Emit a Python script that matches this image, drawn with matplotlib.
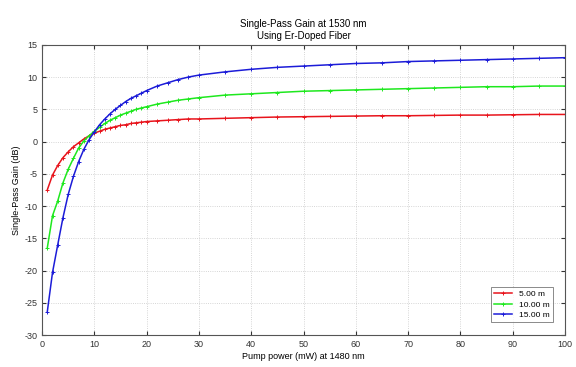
import matplotlib
matplotlib.use("Agg")
import matplotlib.pyplot as plt

plt.rcParams['font.family'] = ['Liberation Sans', 'DejaVu Sans']
plt.rcParams['axes.unicode_minus'] = False

# pump power (mW) at 1480 nm
pump = [1, 2, 3, 4, 5, 6, 7, 8, 9, 10, 11, 12, 13, 14, 15, 16, 17, 18, 19, 20,
        22, 24, 26, 28, 30, 35, 40, 45, 50, 55, 60, 65, 70, 75, 80, 85, 90, 95, 100]

# single-pass gain (dB) for each fiber length
gain_5m = [-7.5, -5.2, -3.7, -2.5, -1.6, -0.8, -0.2, 0.4, 0.9, 1.3, 1.6, 1.9, 2.1, 2.3,
           2.5, 2.6, 2.8, 2.9, 3.0, 3.1, 3.2, 3.3, 3.4, 3.5, 3.5, 3.6, 3.7, 3.8, 3.85,
           3.9, 3.95, 4.0, 4.0, 4.05, 4.1, 4.1, 4.15, 4.2, 4.2]
gain_10m = [-16.5, -11.5, -9.2, -6.4, -4.3, -2.6, -1.0, 0.1, 0.9, 1.6, 2.2, 2.8, 3.3, 3.7,
            4.1, 4.4, 4.7, 5.0, 5.2, 5.4, 5.8, 6.1, 6.4, 6.6, 6.8, 7.2, 7.4, 7.6, 7.8,
            7.9, 8.0, 8.1, 8.2, 8.3, 8.4, 8.5, 8.5, 8.6, 8.6]
gain_15m = [-26.4, -20.3, -16.0, -11.8, -8.2, -5.4, -3.1, -1.2, 0.3, 1.5, 2.6, 3.5, 4.3, 5.0,
            5.6, 6.2, 6.7, 7.1, 7.5, 7.9, 8.6, 9.1, 9.6, 10.0, 10.3, 10.8, 11.2, 11.5, 11.7,
            11.9, 12.1, 12.2, 12.4, 12.5, 12.6, 12.7, 12.8, 12.9, 13.0]

labels = ['5.00 m', '10.00 m', '15.00 m']
colors = ['#e8141c', '#1ee81e', '#1c1cd8']

fig = plt.figure(figsize=(5.76, 3.67), dpi=100)
ax = fig.add_axes([0.073, 0.087, 0.908, 0.791])

for g, lab, c in zip([gain_5m, gain_10m, gain_15m], labels, colors):
    ax.plot(pump, g, color=c, lw=1.1, ls='-', marker='+', ms=2.5, mew=0.7, label=lab)

ax.set_xlim(0, 100)
ax.set_ylim(-30, 15)
ax.set_xticks(range(0, 101, 10))
ax.set_yticks(range(-30, 16, 5))
ax.grid(True, ls=':', color='#c8c8c8', lw=0.6)
ax.tick_params(direction='in', labelsize=6.5, length=3, colors='#333333',
               top=True, right=True)
for s in ax.spines.values():
    s.set_color('#555555')
    s.set_linewidth(0.8)

ax.set_xlabel('Pump power (mW) at 1480 nm', fontsize=6.5, labelpad=2)
ax.set_ylabel('Single-Pass Gain (dB)', fontsize=6.5, labelpad=2)
ax.set_title('Single-Pass Gain at 1530 nm\nUsing Er-Doped Fiber', fontsize=7,
             pad=4, linespacing=1.3)

leg = ax.legend(loc='lower right', bbox_to_anchor=(0.985, 0.03), fontsize=6,
                frameon=True, fancybox=False, handlelength=2.2, borderpad=0.4,
                labelspacing=0.3)
leg.get_frame().set_edgecolor('#555555')
leg.get_frame().set_linewidth(0.6)

fig.savefig('out.png', dpi=100)
